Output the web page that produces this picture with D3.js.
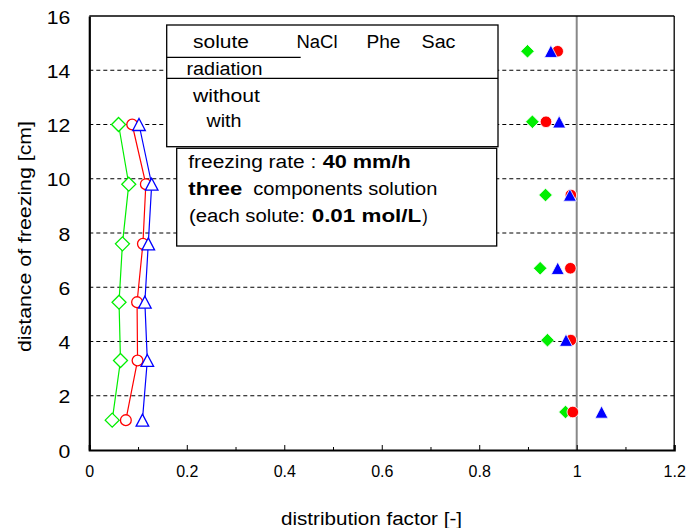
<!DOCTYPE html>
<html>
<head>
<meta charset="utf-8">
<script src="https://cdn.jsdelivr.net/npm/d3@7"></script>
<style>
  body { margin: 0; background: #fff; }
  svg { display: block; }
  text { font-family: "Liberation Sans", Arial, Helvetica, sans-serif; fill: #000; }
</style>
</head>
<body>
<svg id="chart" width="688" height="528"></svg>
<script>
// Distance of freezing [cm] for each sampling position
const distanceOpen   = [12.0, 9.8, 7.6, 5.45, 3.3, 1.1];
const distanceFilled = [14.7, 12.1, 9.4, 6.7, 4.05, 1.4];

// Distribution factor, open markers (joined by lines)
const naclOpen = [0.060, 0.081, 0.068, 0.061, 0.064, 0.047];
const pheOpen  = [0.088, 0.116, 0.110, 0.098, 0.099, 0.075];
const sacOpen  = [0.102, 0.128, 0.121, 0.114, 0.119, 0.109];

// Distribution factor, filled markers
const naclFilled = [0.899, 0.909, 0.936, 0.925, 0.940, 0.977];
const pheFilled  = [0.961, 0.937, 0.988, 0.987, 0.988, 0.992];
const sacFilled  = [0.947, 0.964, 0.986, 0.961, 0.978, 1.051];

const xTicks = [0, 0.2, 0.4, 0.6, 0.8, 1, 1.2];
const xMinorTicks = [0.1, 0.3, 0.5, 0.7, 0.9, 1.1];
const yTicks = [0, 2, 4, 6, 8, 10, 12, 14, 16];
const gridValues = [2, 4, 6, 8, 10, 12, 14];

const soluteNames = ["NaCl", "Phe", "Sac"];
const radiationRows = ["without", "with"];
const xTitle = "distribution factor  [-]";
const yTitle = "distance of freezing  [cm]";

const svg = d3.select("#chart");

const x = d3.scaleLinear().domain([0, 1.2]).range([89.3, 674.2]);
const y = d3.scaleLinear().domain([0, 16]).range([450, 16]);

const colors = { nacl: "#00ee00", phe: "#ff0000", sac: "#0000ff" };

// ---------- custom marker shapes ----------
const squareDiamond = {
  draw(ctx, r) { ctx.moveTo(0, -r); ctx.lineTo(r, 0); ctx.lineTo(0, r); ctx.lineTo(-r, 0); ctx.closePath(); }
};
const boxTriangle = {
  draw(ctx, r) { ctx.moveTo(0, -r * 0.95); ctx.lineTo(r, r * 0.95); ctx.lineTo(-r, r * 0.95); ctx.closePath(); }
};
const roundDot = {
  draw(ctx, r) { ctx.moveTo(r, 0); ctx.arc(0, 0, r, 0, 2 * Math.PI); }
};

// ---------- gridlines ----------
svg.append("g").selectAll("line").data(gridValues).join("line")
  .attr("x1", x(0)).attr("x2", x(1.2))
  .attr("y1", d => y(d)).attr("y2", d => y(d))
  .attr("stroke", "#000").attr("stroke-width", 1)
  .attr("stroke-dasharray", "4,3");

// reference line at distribution factor = 1
svg.append("line")
  .attr("x1", x(1)).attr("x2", x(1)).attr("y1", y(16)).attr("y2", y(0))
  .attr("stroke", "#888").attr("stroke-width", 2);

// ---------- frame ----------
svg.append("line").attr("x1", x(0)).attr("x2", x(1.2)).attr("y1", y(16)).attr("y2", y(16))
  .attr("stroke", "#000").attr("stroke-width", 1.3);
svg.append("line").attr("x1", x(1.2)).attr("x2", x(1.2)).attr("y1", y(16)).attr("y2", y(0))
  .attr("stroke", "#000").attr("stroke-width", 1.3);

// ---------- axes ----------
const xAxis = svg.append("g").attr("transform", `translate(0,${y(0)})`)
  .call(d3.axisBottom(x).tickValues(xTicks).tickSize(-5).tickPadding(16).tickFormat(d => String(d)));
xAxis.select(".domain").attr("stroke-width", 2.2);
xAxis.selectAll(".tick line").attr("stroke-width", 1);
xAxis.selectAll(".tick text").attr("font-size", 16).attr("font-family", "Liberation Sans, Arial, sans-serif");

const xMinor = svg.append("g").attr("transform", `translate(0,${y(0)})`)
  .call(d3.axisBottom(x).tickValues(xMinorTicks).tickSize(-3).tickFormat(""));
xMinor.select(".domain").remove();

const yAxis = svg.append("g").attr("transform", `translate(${x(0)},0)`)
  .call(d3.axisLeft(y).tickValues(yTicks).tickSize(0).tickPadding(19).tickFormat(d => String(d)));
yAxis.select(".domain").attr("stroke-width", 2.2);
yAxis.selectAll(".tick text").attr("font-size", 18).attr("dy", "0.4em")
  .attr("font-family", "Liberation Sans, Arial, sans-serif")
  .attr("textLength", d => String(d).length * 11.8).attr("lengthAdjust", "spacingAndGlyphs");

// axis titles
svg.append("text").attr("x", 281).attr("y", 525).attr("font-size", 18)
  .attr("textLength", 181).attr("lengthAdjust", "spacingAndGlyphs").text(xTitle);
svg.append("text").attr("transform", "translate(31,352) rotate(-90)").attr("font-size", 18)
  .attr("textLength", 231).attr("lengthAdjust", "spacingAndGlyphs").text(yTitle);

// ---------- legend table ----------
const leg = svg.append("g");
leg.append("rect").attr("x", 166.7).attr("y", 25).attr("width", 331.3).attr("height", 121.7)
  .attr("fill", "#fff").attr("stroke", "#000").attr("stroke-width", 1.3);
leg.append("line").attr("x1", 166.7).attr("x2", 300.7).attr("y1", 57.3).attr("y2", 57.3)
  .attr("stroke", "#000").attr("stroke-width", 1.3);
leg.append("line").attr("x1", 166.7).attr("x2", 498).attr("y1", 78.3).attr("y2", 78.3)
  .attr("stroke", "#000").attr("stroke-width", 1.3);

function label(g, str, px, py, len, bold) {
  g.append("text").attr("x", px).attr("y", py).attr("font-size", 18)
    .attr("font-weight", bold ? "bold" : "normal")
    .attr("textLength", len).attr("lengthAdjust", "spacingAndGlyphs").text(str);
}
label(leg, "solute", 193, 48.3, 56);
const headX = [296.5, 366.5, 421.5];
const headW = [41, 34, 34];
soluteNames.forEach((s, i) => label(leg, s, headX[i], 48.3, headW[i]));
label(leg, "radiation", 186.5, 75, 76);
label(leg, radiationRows[0], 193, 101.7, 67);
label(leg, radiationRows[1], 206.5, 127, 35);

// ---------- condition note ----------
const note = svg.append("g");
note.append("rect").attr("x", 176.7).attr("y", 148.3).attr("width", 320).attr("height", 97.7)
  .attr("fill", "#fff").attr("stroke", "#000").attr("stroke-width", 1.3);
label(note, "freezing rate :", 188.3, 168.3, 128);
label(note, "40 mm/h", 322.7, 168.3, 88, true);
label(note, "three", 188.3, 195, 54, true);
label(note, "components solution", 253.3, 195, 184);
label(note, "(each solute:", 189, 221.7, 116);
label(note, "0.01 mol/L", 311.7, 221.7, 109.5, true);
label(note, ")", 422.3, 221.7, 5.5);

// ---------- open-marker series with connecting lines ----------
const openSeries = [
  { vals: naclOpen, color: colors.nacl, type: squareDiamond, r: 7 },
  { vals: pheOpen,  color: colors.phe,  type: roundDot,      r: 5.4 },
  { vals: sacOpen,  color: colors.sac,  type: boxTriangle,   r: 6.3 }
];
const line = d3.line().x(d => x(d[0])).y(d => y(d[1]));
openSeries.forEach(s => {
  const pts = s.vals.map((v, i) => [v, distanceOpen[i]]);
  svg.append("path").datum(pts).attr("d", line)
    .attr("fill", "none").attr("stroke", s.color).attr("stroke-width", 1.2);
});
openSeries.forEach(s => {
  const pts = s.vals.map((v, i) => [v, distanceOpen[i]]);
  svg.append("g").selectAll("path").data(pts).join("path")
    .attr("transform", d => `translate(${x(d[0])},${y(d[1])})`)
    .attr("d", d3.symbol().type(s.type).size(s.r))
    .attr("fill", "#fff").attr("stroke", s.color).attr("stroke-width", 1.3);
});

// ---------- filled-marker series ----------
const filledSeries = [
  { vals: naclFilled, color: colors.nacl, type: squareDiamond, r: 6.8 },
  { vals: pheFilled,  color: colors.phe,  type: roundDot,      r: 5.8 },
  { vals: sacFilled,  color: colors.sac,  type: boxTriangle,   r: 6.5 }
];
filledSeries.forEach(s => {
  const pts = s.vals.map((v, i) => [v, distanceFilled[i]]);
  svg.append("g").selectAll("path").data(pts).join("path")
    .attr("transform", d => `translate(${x(d[0])},${y(d[1])})`)
    .attr("d", d3.symbol().type(s.type).size(s.r))
    .attr("fill", s.color).attr("stroke", "#fff").attr("stroke-width", 0.8);
});
</script>
</body>
</html>
